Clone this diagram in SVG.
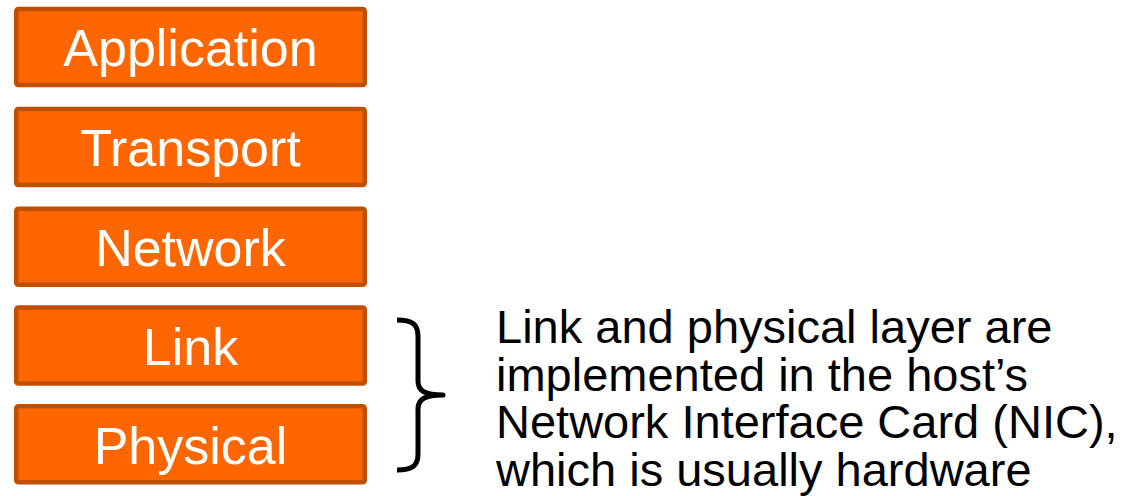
<svg xmlns="http://www.w3.org/2000/svg" width="1134" height="496" viewBox="0 0 1134 496">
  <style>
    .layer rect { fill: #FF6600; stroke: #C04F00; stroke-width: 4.5; }
    .layer text { fill: #FFFFFF; font-family: "Liberation Sans", Arial, sans-serif; font-size: 52px; text-anchor: middle; }
    .note { fill: #000000; font-family: "Liberation Sans", Arial, sans-serif; font-size: 47px; }
    .brace { fill: none; stroke: #000000; stroke-width: 5; stroke-linecap: butt; stroke-linejoin: round; }
  </style>

  <!-- protocol stack layers -->
  <g id="application" class="layer">
    <rect x="16.25" y="9" width="348.5" height="76" rx="2"/>
    <text x="190.5" y="66">Application</text>
  </g>
  <g id="transport" class="layer">
    <rect x="16.25" y="109" width="348.5" height="76" rx="2"/>
    <text x="190.5" y="166">Transport</text>
  </g>
  <g id="network" class="layer">
    <rect x="16.25" y="208.75" width="348.5" height="76" rx="2"/>
    <text x="190.5" y="265.5">Network</text>
  </g>
  <g id="link" class="layer">
    <rect x="16.25" y="307.5" width="348.5" height="76" rx="2"/>
    <text x="190.5" y="365">Link</text>
  </g>
  <g id="physical" class="layer">
    <rect x="16.25" y="406.25" width="348.5" height="76" rx="2"/>
    <text x="190.5" y="463.5">Physical</text>
  </g>

  <!-- brace grouping link and physical layers -->
  <g id="connectors">
    <path class="brace" d="M397,320 C412,320 418,324 418,336 L418,381 C418,391 425,395 443,395 C425,395 418,399 418,409 L418,454 C418,466 412,470 397,470"/>
  </g>

  <!-- explanatory note -->
  <g id="note">
    <text class="note" x="496" y="343">Link and physical layer are</text>
    <text class="note" x="496" y="390.7">implemented in the host’s</text>
    <text class="note" x="496" y="438.3">Network Interface Card (NIC),</text>
    <text class="note" x="496" y="486">which is usually hardware</text>
  </g>
</svg>
